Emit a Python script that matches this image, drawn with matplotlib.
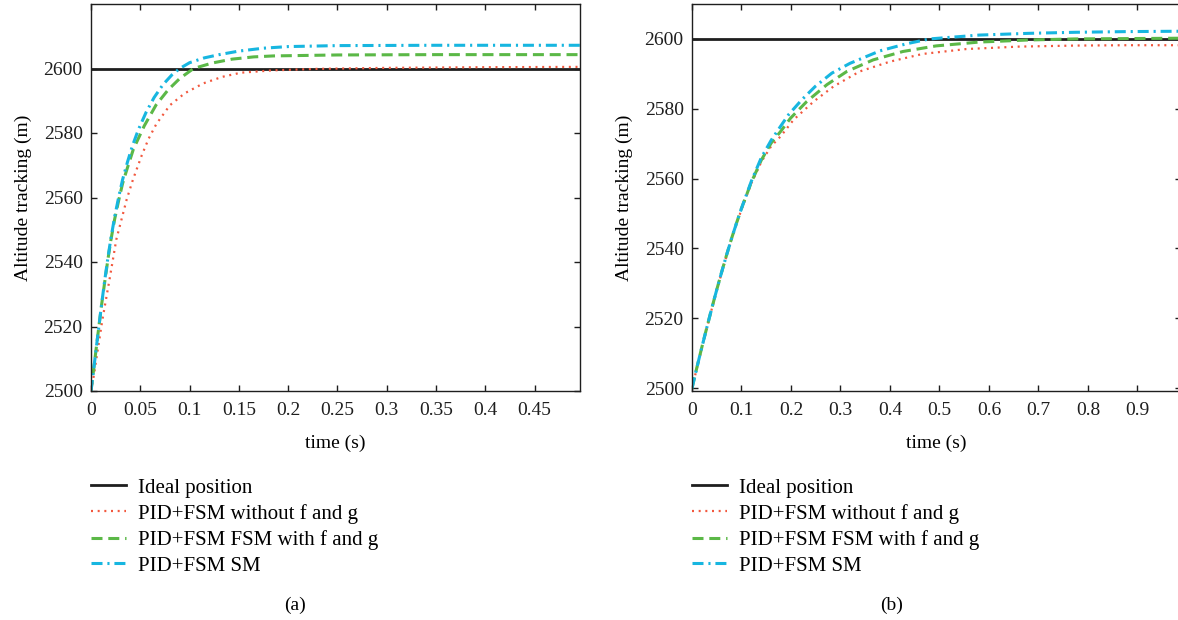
"""Altitude tracking: ideal position vs three PID+FSM variants, two time windows."""

import matplotlib
matplotlib.use("Agg")
import matplotlib.pyplot as plt

plt.rcParams["font.family"] = ["Liberation Serif", "DejaVu Serif"]

IDEAL = 2600.0

labels = ["Ideal position", "PID+FSM without f and g",
          "PID+FSM FSM with f and g", "PID+FSM SM"]

# --- (a) 0 .. 0.5 s ---------------------------------------------------------
a_t_sm = [0, 0.002, 0.005, 0.008, 0.011, 0.014, 0.017, 0.020, 0.024, 0.028,
          0.032, 0.037, 0.042, 0.048, 0.056, 0.064, 0.073, 0.082, 0.090, 0.100,
          0.115, 0.130, 0.150, 0.175, 0.200, 0.250, 0.350, 0.496]
a_sm = [2500, 2505, 2512.5, 2520, 2527.5, 2534.5, 2541, 2547, 2554, 2560,
        2565.5, 2571, 2576, 2581, 2586.5, 2591, 2595, 2598, 2600, 2601.8,
        2603.3, 2604.3, 2605.4, 2606.3, 2606.8, 2607.1, 2607.2, 2607.2]

a_t_fg = [0, 0.002, 0.005, 0.008, 0.011, 0.014, 0.017, 0.020, 0.024, 0.028,
          0.032, 0.036, 0.043, 0.054, 0.066, 0.078, 0.090, 0.104, 0.123, 0.143,
          0.165, 0.185, 0.250, 0.350, 0.496]
a_fg = [2500, 2505, 2512.5, 2520, 2527.3, 2534, 2540.5, 2546.5, 2553.3, 2559,
        2564.3, 2568.3, 2575, 2582.2, 2588.7, 2593.3, 2596.9, 2600, 2601.7, 2602.9,
        2603.6, 2603.9, 2604.2, 2604.3, 2604.3]

a_t_nofg = [0, 0.003, 0.0057, 0.0115, 0.0188, 0.0257, 0.0362, 0.0426, 0.0515,
            0.0584, 0.0663, 0.080, 0.095, 0.114, 0.133, 0.152, 0.183, 0.230,
            0.300, 0.400, 0.496]
a_nofg = [2500, 2505, 2510.5, 2522, 2534.6, 2547, 2559.4, 2565.6, 2573.1,
          2578.2, 2582.8, 2588.6, 2592.3, 2595.4, 2597.4, 2598.7, 2599.4, 2599.9,
          2600.2, 2600.4, 2600.5]

# --- (b) 0 .. 1 s -----------------------------------------------------------
b_t_sm = [0, 0.01, 0.02, 0.03, 0.04, 0.05, 0.06, 0.07, 0.08, 0.09, 0.10, 0.12,
          0.14, 0.16, 0.179, 0.195, 0.222, 0.249, 0.2825, 0.319, 0.38, 0.433,
          0.48, 0.58, 0.68, 0.774, 0.88, 0.985]
b_sm = [2500, 2506, 2511.8, 2517.4, 2522.9, 2528.2, 2533.3, 2538.2, 2542.9,
        2547.3, 2551.5, 2559.3, 2566, 2571, 2575, 2578.3, 2582.6, 2586.4, 2590.2,
        2593, 2596.6, 2598.6, 2600, 2601.1, 2601.6, 2601.9, 2602.1, 2602.2]

b_t_fg = [0, 0.01, 0.02, 0.03, 0.04, 0.05, 0.06, 0.07, 0.08, 0.09, 0.10, 0.12,
          0.14, 0.16, 0.179, 0.199, 0.232, 0.2725, 0.313, 0.366, 0.426, 0.493,
          0.58, 0.68, 0.774, 0.88, 0.985]
b_fg = [2500, 2506, 2511.8, 2517.4, 2522.9, 2528.2, 2533.3, 2538.2, 2542.9,
        2547.3, 2551.5, 2559, 2565.3, 2570.2, 2573.5, 2577.3, 2582.1, 2586.9,
        2590.7, 2594, 2596.4, 2598, 2599.1, 2599.7, 2600, 2600.1, 2600.2]

b_t_nofg = [0, 0.01, 0.02, 0.03, 0.04, 0.05, 0.06, 0.07, 0.08, 0.09, 0.10, 0.12,
            0.14, 0.16, 0.179, 0.2055, 0.246, 0.286, 0.339, 0.40, 0.466, 0.554,
            0.66, 0.774, 0.88, 0.985]
b_nofg = [2500, 2505.8, 2511.6, 2517.2, 2522.7, 2528, 2533.1, 2538, 2542.6,
          2547, 2551.2, 2558.7, 2564.8, 2569.3, 2572.1, 2576.9, 2582.1, 2586.4,
          2590.7, 2593.5, 2595.7, 2597.1, 2597.8, 2598.1, 2598.2, 2598.2]

a_xticks = [0, 0.05, 0.1, 0.15, 0.2, 0.25, 0.3, 0.35, 0.4, 0.45]
a_xticklabels = ["0", "0.05", "0.1", "0.15", "0.2", "0.25", "0.3", "0.35", "0.4", "0.45"]
b_xticks = [0, 0.1, 0.2, 0.3, 0.4, 0.5, 0.6, 0.7, 0.8, 0.9]
b_xticklabels = ["0", "0.1", "0.2", "0.3", "0.4", "0.5", "0.6", "0.7", "0.8", "0.9"]
yticks = [2500, 2520, 2540, 2560, 2580, 2600]

RED = "#f2583e"
GREEN = "#5bb847"
CYAN = "#17b6e0"
BLACK = "#1e1e1e"

W, H = 1178, 620
fig = plt.figure(figsize=(W / 100, H / 100), dpi=100)


def panel(left_px, xlim, ylim, t_nofg, nofg, t_fg, fg, t_sm, sm, xticks, xticklabels, tag, tag_x):
    ax = fig.add_axes([left_px / W, 1 - 391 / H, 489 / W, 387 / H])
    ax.axhline(IDEAL, color=BLACK, lw=2.0, label=labels[0])
    ax.plot(t_nofg, nofg, color=RED, lw=1.6, dashes=(0.9, 2.1), label=labels[1])
    ax.plot(t_fg, fg, color=GREEN, lw=2.2, dashes=(3.6, 1.9), label=labels[2])
    ax.plot(t_sm, sm, color=CYAN, lw=2.2, dashes=(3.6, 1.6, 0.7, 1.6), label=labels[3])
    ax.set_xlim(*xlim)
    ax.set_ylim(*ylim)
    ax.set_xticks(xticks)
    ax.set_xticklabels(xticklabels)
    ax.set_yticks(yticks)
    ax.tick_params(direction="in", top=True, right=True, length=4.5, width=1.0,
                   labelsize=14, pad=6, colors=BLACK)
    ax.tick_params(axis="x", pad=8)
    for sp in ax.spines.values():
        sp.set_linewidth(1.0)
        sp.set_color(BLACK)
    ax.set_xlabel("time (s)", fontsize=14, labelpad=11)
    ax.set_ylabel("Altitude tracking (m)", fontsize=14, labelpad=8)

    handles, labs = ax.get_legend_handles_labels()
    fig.legend(handles, labs, loc="upper left",
               bbox_to_anchor=(left_px / W, 1 - 478 / H),
               frameon=False, fontsize=15, handlelength=1.7, handletextpad=0.55,
               labelspacing=0.3, borderpad=0, borderaxespad=0)
    fig.text(tag_x / W, 1 - 605 / H, tag, fontsize=14, ha="center", va="center")
    return ax


panel(91, (0, 0.496), (2500, 2620), a_t_nofg, a_nofg, a_t_fg, a_fg, a_t_sm, a_sm,
      a_xticks, a_xticklabels, "(a)", 295)
panel(692, (0, 0.988), (2499.2, 2610), b_t_nofg, b_nofg, b_t_fg, b_fg, b_t_sm, b_sm,
      b_xticks, b_xticklabels, "(b)", 892)

fig.savefig("out.png", dpi=100)
